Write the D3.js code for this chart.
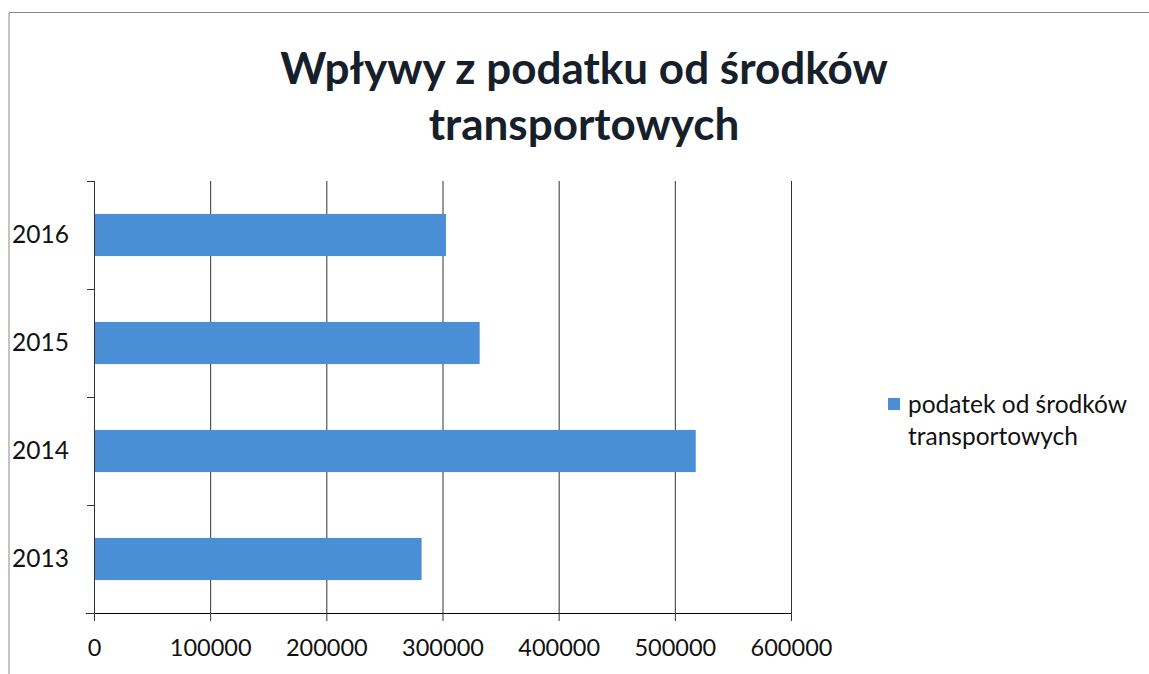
<!DOCTYPE html>
<html>
<head>
<meta charset="utf-8">
<script src="https://cdn.jsdelivr.net/npm/d3@7"></script>
<style>
  body { margin: 0; background: #fff; }
  text { font-family: Lato, "Open Sans", sans-serif; fill: #111; }
</style>
</head>
<body>
<div id="chart"></div>
<script>
// data
var years = ["2013", "2014", "2015", "2016"];
var values = [282000, 518000, 332000, 303000];
var xTicks = [0, 100000, 200000, 300000, 400000, 500000, 600000];
var seriesName = ["podatek od środków", "transportowych"];
var titleLines = ["Wpływy z podatku od środków", "transportowych"];

var W = 1149, H = 674;
var margin = {top: 181, left: 94};
var width = 697, height = 432;

var svg = d3.select("#chart").append("svg")
    .attr("width", W)
    .attr("height", H);

// outer frame (cut off at right / bottom like the scan)
svg.append("path")
    .attr("d", "M9," + H + " L9,12.5 L" + W + ",12.5")
    .attr("fill", "none")
    .attr("stroke", "#888")
    .attr("stroke-width", 1);

// title
svg.append("g").selectAll("text")
    .data(titleLines)
    .enter().append("text")
    .attr("x", 584)
    .attr("y", function(d, i) { return 84 + i * 56; })
    .attr("text-anchor", "middle")
    .style("font-size", "44px")
    .style("font-weight", "bold")
    .style("fill", "#16202a")
    .text(function(d) { return d; });

var g = svg.append("g")
    .attr("transform", "translate(" + margin.left + "," + margin.top + ")");

var x = d3.scaleLinear().domain([0, 600000]).range([0, width]);
var y = d3.scaleBand().domain(years.slice().reverse()).range([0, height]).paddingInner(0.61).paddingOuter(0.305);
var yb = d3.scaleBand().domain(years.slice().reverse()).range([0, height]);

// gridlines
g.append("g").selectAll("line")
    .data(xTicks.slice(1))
    .enter().append("line")
    .attr("x1", function(d) { return x(d) + 0.5; })
    .attr("x2", function(d) { return x(d) + 0.5; })
    .attr("y1", 0)
    .attr("y2", height)
    .attr("stroke", "#333")
    .attr("stroke-width", 1);

// bars
g.append("g").selectAll("rect")
    .data(years)
    .enter().append("rect")
    .attr("x", x(0))
    .attr("y", function(d) { return y(d); })
    .attr("width", function(d, i) { return x(values[i]) - x(0); })
    .attr("height", y.bandwidth())
    .attr("fill", "#4a8fd6");

// x axis
var xAxis = g.append("g")
    .attr("transform", "translate(0," + height + ")")
    .call(d3.axisBottom(x).tickValues(xTicks).tickFormat(d3.format("d")).tickSize(8).tickPadding(18));
xAxis.select(".domain").attr("d", "M-8,0.5H" + width);
xAxis.selectAll("line").attr("stroke", "#333");
xAxis.selectAll("text").style("font-size", "23.5px").attr("font-family", null).style("fill", "#111");

// y axis
var yAxis = g.append("g")
    .call(d3.axisLeft(yb).tickSize(0));
yAxis.select(".domain").attr("d", "M0.5,0V" + height).attr("stroke", "#333");
yAxis.selectAll("text").style("font-size", "24.5px").attr("font-family", null)
    .attr("text-anchor", "start").attr("x", -82).style("fill", "#111");
// boundary ticks between categories
g.append("g").selectAll("line")
    .data(years.concat(["end"]))
    .enter().append("line")
    .attr("x1", -7).attr("x2", 0)
    .attr("y1", function(d, i) { return i * yb.step() + 0.5; })
    .attr("y2", function(d, i) { return i * yb.step() + 0.5; })
    .attr("stroke", "#333");

// legend
var leg = svg.append("g").attr("transform", "translate(888,398)");
leg.append("rect").attr("width", 12).attr("height", 12).attr("fill", "#4a8fd6");
leg.selectAll("text")
    .data(seriesName)
    .enter().append("text")
    .attr("x", 20)
    .attr("y", function(d, i) { return 15 + i * 32; })
    .style("font-size", "24.5px")
    .text(function(d) { return d; });
</script>
</body>
</html>
